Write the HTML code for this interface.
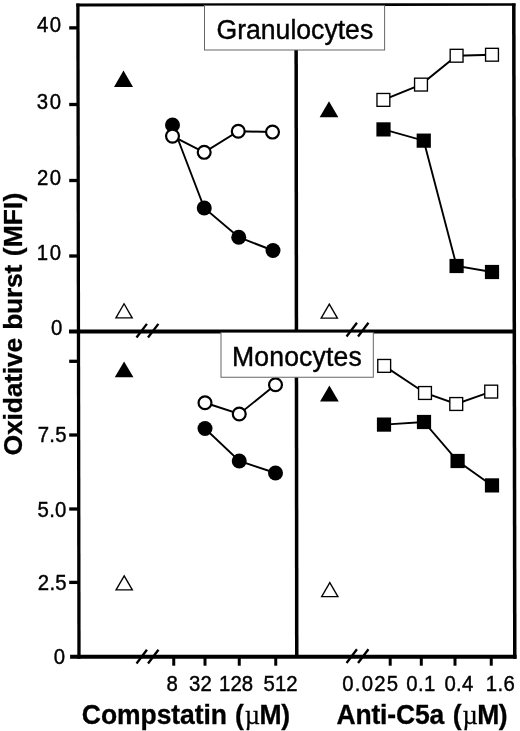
<!DOCTYPE html>
<html lang="en"><head><meta charset="utf-8"><title>Oxidative burst</title>
<style>
html,body{margin:0;padding:0;background:#fff;}
body{width:520px;height:731px;overflow:hidden;}
svg{display:block;filter:blur(0.45px);}
text{font-family:"Liberation Sans", Arial, Helvetica, sans-serif;fill:#000;}
.t{font-size:21.2px;stroke:#000;stroke-width:0.4px;}
.b{font-weight:bold;font-size:26.5px;stroke:#000;stroke-width:0.3px;}
.ttl{font-size:26.6px;stroke:#000;stroke-width:0.4px;}
.mu{font-family:"Liberation Serif","DejaVu Serif",serif;font-weight:normal;stroke-width:0.25px;}
</style></head><body>
<svg width="520" height="731" viewBox="0 0 520 731">
<rect x="0" y="0" width="520" height="731" fill="#fff"/>

<g stroke="#000" fill="none" stroke-linecap="butt">
<line x1="77.90" y1="3.4" x2="79.00" y2="658.75" stroke-width="3.3"/>
<line x1="513.80" y1="3.4" x2="514.80" y2="658.75" stroke-width="3.5"/>
<polygon points="76.3,3.4 515.5,3.3 515.5,5.85 76.3,6.45" fill="#000" stroke="none"/>
<line x1="69" y1="331.45" x2="516.00" y2="331.45" stroke-width="3.9"/>
<line x1="70.1" y1="656.75" x2="516.55" y2="656.75" stroke-width="3.9"/>
<line x1="296.1" y1="4.7" x2="296.75" y2="656.75" stroke-width="3.5"/>
<line x1="69.2" y1="27.85" x2="77.94" y2="27.85" stroke-width="3.3"/>
<line x1="69.2" y1="104.5" x2="78.07" y2="104.5" stroke-width="3.3"/>
<line x1="69.2" y1="180.5" x2="78.20" y2="180.5" stroke-width="3.3"/>
<line x1="69.2" y1="256" x2="78.32" y2="256" stroke-width="3.3"/>
<line x1="69.2" y1="361.3" x2="78.50" y2="361.3" stroke-width="3.3"/>
<line x1="69.2" y1="435" x2="78.62" y2="435" stroke-width="3.3"/>
<line x1="69.2" y1="509" x2="78.75" y2="509" stroke-width="3.3"/>
<line x1="69.2" y1="582.4" x2="78.87" y2="582.4" stroke-width="3.3"/>
<line x1="173.75" y1="656.75" x2="173.75" y2="665.7" stroke-width="3"/>
<line x1="205" y1="656.75" x2="205" y2="665.7" stroke-width="3"/>
<line x1="239.25" y1="656.75" x2="239.25" y2="665.7" stroke-width="3"/>
<line x1="275.75" y1="656.75" x2="275.75" y2="665.7" stroke-width="3"/>
<line x1="390.2" y1="656.75" x2="390.2" y2="665.7" stroke-width="3"/>
<line x1="421.3" y1="656.75" x2="421.3" y2="665.7" stroke-width="3"/>
<line x1="455" y1="656.75" x2="455" y2="665.7" stroke-width="3"/>
<line x1="491.25" y1="656.75" x2="491.25" y2="665.7" stroke-width="3"/>
</g>
<polyline points="172.5,125 204.25,208 238.75,237.25 273,250.5" fill="none" stroke="#000" stroke-width="1.9"/>
<circle cx="172.5" cy="125" r="7.5" fill="#000"/>
<circle cx="204.25" cy="208" r="7.5" fill="#000"/>
<circle cx="238.75" cy="237.25" r="7.5" fill="#000"/>
<circle cx="273" cy="250.5" r="7.5" fill="#000"/>
<polyline points="172.5,136.1 204.2,152.3 238.25,131.25 272.5,132.05" fill="none" stroke="#000" stroke-width="1.9"/>
<circle cx="172.5" cy="136.1" r="6.45" fill="#fff" stroke="#000" stroke-width="2.2"/>
<circle cx="204.2" cy="152.3" r="6.45" fill="#fff" stroke="#000" stroke-width="2.2"/>
<circle cx="238.25" cy="131.25" r="6.45" fill="#fff" stroke="#000" stroke-width="2.2"/>
<circle cx="272.5" cy="132.05" r="6.45" fill="#fff" stroke="#000" stroke-width="2.2"/>
<polyline points="383.4,99.9 421,84.6 456.6,55.75 492,54.75" fill="none" stroke="#000" stroke-width="1.9"/>
<polyline points="383.5,129.4 423.75,140.65 456.6,266 492,272" fill="none" stroke="#000" stroke-width="1.9"/>
<rect x="376.97" y="93.48" width="12.85" height="12.85" fill="#fff" stroke="#000" stroke-width="1.35"/>
<rect x="414.57" y="78.17" width="12.85" height="12.85" fill="#fff" stroke="#000" stroke-width="1.35"/>
<rect x="450.18" y="49.32" width="12.85" height="12.85" fill="#fff" stroke="#000" stroke-width="1.35"/>
<rect x="485.57" y="48.32" width="12.85" height="12.85" fill="#fff" stroke="#000" stroke-width="1.35"/>
<rect x="376.40" y="122.30" width="14.2" height="14.2" fill="#000"/>
<rect x="416.65" y="133.55" width="14.2" height="14.2" fill="#000"/>
<rect x="449.50" y="258.90" width="14.2" height="14.2" fill="#000"/>
<rect x="484.90" y="264.90" width="14.2" height="14.2" fill="#000"/>
<polyline points="205,402.75 239.25,414 275.5,384.75" fill="none" stroke="#000" stroke-width="1.9"/>
<polyline points="205,428.5 239.25,461 275.5,473" fill="none" stroke="#000" stroke-width="1.9"/>
<circle cx="205" cy="428.5" r="7.5" fill="#000"/>
<circle cx="239.25" cy="461" r="7.5" fill="#000"/>
<circle cx="275.5" cy="473" r="7.5" fill="#000"/>
<circle cx="205" cy="402.75" r="6.45" fill="#fff" stroke="#000" stroke-width="2.2"/>
<circle cx="239.25" cy="414" r="6.45" fill="#fff" stroke="#000" stroke-width="2.2"/>
<circle cx="275.5" cy="384.75" r="6.45" fill="#fff" stroke="#000" stroke-width="2.2"/>
<polyline points="384.2,365.9 425,393 456.25,404 491.2,391.6" fill="none" stroke="#000" stroke-width="1.9"/>
<polyline points="384,424.6 424,422 457.6,461 492,485.4" fill="none" stroke="#000" stroke-width="1.9"/>
<rect x="377.77" y="359.47" width="12.85" height="12.85" fill="#fff" stroke="#000" stroke-width="1.35"/>
<rect x="418.57" y="386.57" width="12.85" height="12.85" fill="#fff" stroke="#000" stroke-width="1.35"/>
<rect x="449.82" y="397.57" width="12.85" height="12.85" fill="#fff" stroke="#000" stroke-width="1.35"/>
<rect x="484.77" y="385.18" width="12.85" height="12.85" fill="#fff" stroke="#000" stroke-width="1.35"/>
<rect x="376.90" y="417.50" width="14.2" height="14.2" fill="#000"/>
<rect x="416.90" y="414.90" width="14.2" height="14.2" fill="#000"/>
<rect x="450.50" y="453.90" width="14.2" height="14.2" fill="#000"/>
<rect x="484.90" y="478.30" width="14.2" height="14.2" fill="#000"/>
<polygon points="114.00,87 133.00,87 123.5,70.60" fill="#000"/>
<polygon points="114.75,318.50 133.35,318.50 124.05,302.40" fill="#000"/>
<polygon points="117.09,317.15 131.01,317.15 124.05,305.10" fill="#fff"/>
<polygon points="319.65,117.2 338.35,117.2 329,101.30" fill="#000"/>
<polygon points="320.00,318.80 338.60,318.80 329.30,302.70" fill="#000"/>
<polygon points="322.34,317.45 336.26,317.45 329.30,305.40" fill="#fff"/>
<polygon points="114.75,377.3 133.45,377.3 124.1,361.40" fill="#000"/>
<polygon points="114.90,590.60 133.50,590.60 124.20,574.50" fill="#000"/>
<polygon points="117.24,589.25 131.16,589.25 124.20,577.20" fill="#fff"/>
<polygon points="320.05,401.4 338.75,401.4 329.4,385.50" fill="#000"/>
<polygon points="320.50,597.30 339.10,597.30 329.80,581.20" fill="#000"/>
<polygon points="322.84,595.95 336.76,595.95 329.80,583.90" fill="#fff"/>
<rect x="204.5" y="5.5" width="180.1" height="44.5" fill="#fff" stroke="#666" stroke-width="1"/>
<rect x="221.0" y="332.5" width="152.3" height="44.75" fill="#fff" stroke="#666" stroke-width="1"/>
<line x1="136.50" y1="337.55" x2="146.90" y2="323.85" stroke="#000" stroke-width="2.3"/>
<line x1="148.00" y1="337.55" x2="158.40" y2="323.85" stroke="#000" stroke-width="2.3"/>
<line x1="346.55" y1="336.45" x2="356.95" y2="322.75" stroke="#000" stroke-width="2.3"/>
<line x1="358.05" y1="336.45" x2="368.45" y2="322.75" stroke="#000" stroke-width="2.3"/>
<line x1="136.55" y1="663.45" x2="146.95" y2="649.75" stroke="#000" stroke-width="2.3"/>
<line x1="148.05" y1="663.45" x2="158.45" y2="649.75" stroke="#000" stroke-width="2.3"/>
<line x1="346.55" y1="662.95" x2="356.95" y2="649.25" stroke="#000" stroke-width="2.3"/>
<line x1="358.05" y1="662.95" x2="368.45" y2="649.25" stroke="#000" stroke-width="2.3"/>
<text class="ttl" transform="translate(216.5,38.5) scale(1,1.05)">Granulocytes</text>
<text class="ttl" transform="translate(232.05,365.7) scale(1,1.05)" letter-spacing="0.132">Monocytes</text>
<text class="t" transform="translate(37.0,31.9) scale(0.96,1.08)" letter-spacing="1.6">40</text>
<text class="t" transform="translate(36.85,108.7) scale(0.96,1.08)" letter-spacing="1.6">30</text>
<text class="t" transform="translate(37.0,184.7) scale(0.96,1.08)" letter-spacing="1.6">20</text>
<text class="t" transform="translate(36.85,260.2) scale(0.96,1.08)" letter-spacing="1.6">10</text>
<text class="t" transform="translate(51.0,334.8) scale(0.96,1.08)">0</text>
<text class="t" transform="translate(37.65,442.3) scale(0.96,1.08)" letter-spacing="0.27">7.5</text>
<text class="t" transform="translate(37.6,516.5) scale(0.96,1.08)" letter-spacing="0.27">5.0</text>
<text class="t" transform="translate(37.85,590) scale(0.96,1.08)" letter-spacing="0.27">2.5</text>
<text class="t" transform="translate(53.85,664.2) scale(0.96,1.08)">0</text>
<text class="t" transform="translate(166.4,690.6) scale(0.96,1.08)">8</text>
<text class="t" transform="translate(188.95,690.6) scale(0.96,1.08)" letter-spacing="0.12">32</text>
<text class="t" transform="translate(219.0,690.6) scale(0.96,1.08)" letter-spacing="0.12">128</text>
<text class="t" transform="translate(263.48,690.6) scale(0.96,1.08)" letter-spacing="0.12">512</text>
<text class="t" transform="translate(342.27,690.6) scale(0.96,1.08)" letter-spacing="1.3">0.025</text>
<text class="t" transform="translate(406.35,690.6) scale(0.96,1.08)" letter-spacing="0.3">0.1</text>
<text class="t" transform="translate(444.38,690.6) scale(0.96,1.08)" letter-spacing="0.3">0.4</text>
<text class="t" transform="translate(485.85,690.6) scale(0.96,1.08)" letter-spacing="0.3">1.6</text>
<text class="b" transform="translate(0,723.5) scale(1,1.05)"><tspan x="81.85" letter-spacing="-0.054">Compstatin </tspan><tspan x="234.98">(</tspan><tspan class="mu" x="244.80">µ</tspan><tspan x="259.58">M</tspan><tspan x="281.17">)</tspan></text>
<text class="b" transform="translate(0,723.5) scale(1,1.05)"><tspan x="336.4" letter-spacing="-0.138">Anti-C5a </tspan><tspan x="452.68">(</tspan><tspan class="mu" x="462.50">µ</tspan><tspan x="477.28">M</tspan><tspan x="498.87">)</tspan></text>
<text class="b" transform="translate(22.4,455.5) rotate(-90) scale(1,0.96)" letter-spacing="-0.187">Oxidative </text>
<text class="b" transform="translate(22.4,329.75) rotate(-90) scale(1,0.96)" letter-spacing="-0.312">burst </text>
<text class="b" transform="translate(22.4,256.25) rotate(-90) scale(1,0.96)" letter-spacing="0.062">(MFI)</text>
</svg></body></html>
